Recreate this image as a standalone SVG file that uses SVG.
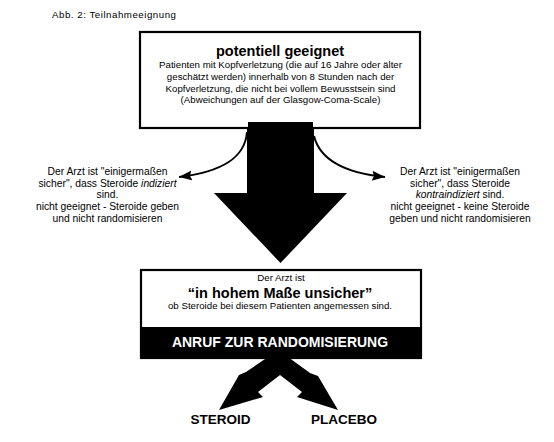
<svg xmlns="http://www.w3.org/2000/svg" width="554" height="442" viewBox="0 0 554 442">
<style>
  text { font-family: "Liberation Sans", Arial, sans-serif; fill: #000; }
  .small { font-size: 9.7px; }
  .side { font-size: 10.3px; }
  .title { font-size: 14.5px; font-weight: bold; }
  .big { font-size: 14.5px; font-weight: bold; }
  .band { font-size: 14px; font-weight: bold; fill: #fff; }
  .out { font-size: 13.5px; font-weight: bold; }
  .box { fill: #fff; stroke: #000; stroke-width: 2.2; }
  .curve { fill: none; stroke: #000; stroke-width: 2; }
  .solid { fill: #000; stroke: none; }
</style>
<defs>
  <marker id="head" markerUnits="userSpaceOnUse" markerWidth="14" markerHeight="12" viewBox="0 0 14 12" refX="13" refY="6" orient="auto">
    <path d="M0,1 L13,6 L0,11 L2,6 Z" fill="#000"/>
  </marker>
</defs>
<rect width="554" height="442" fill="#fff"/>

<g id="caption">
  <text class="small" x="52" y="18" textLength="124" lengthAdjust="spacing">Abb. 2: Teilnahmeeignung</text>
</g>

<g id="top-box">
  <rect class="box" x="140" y="32" width="280" height="96"/>
  <text class="title" x="280" y="55.5" text-anchor="middle">potentiell geeignet</text>
  <text class="small" x="280.5" y="68" text-anchor="middle">Patienten mit Kopfverletzung (die auf 16 Jahre oder älter</text>
  <text class="small" x="280.5" y="80" text-anchor="middle">geschätzt werden) innerhalb von 8 Stunden nach der</text>
  <text class="small" x="280.5" y="91.5" text-anchor="middle">Kopfverletzung, die nicht bei vollem Bewusstsein sind</text>
  <text class="small" x="280.5" y="103" text-anchor="middle">(Abweichungen auf der Glasgow-Coma-Scale)</text>
</g>

<g id="connectors">
  <path class="solid" d="M248,122 L313,122 L313,128 L314,128 L314,193 L347,193 L280.5,263 L214,193 L247,193 L247,128 L248,128 Z"/>
  <path class="curve" d="M247,132 C245,158 222,172 179,177" marker-end="url(#head)"/>
  <path class="curve" d="M314,136 C320,160 345,173 385,177" marker-end="url(#head)"/>
  <path class="solid" d="M268,357 L288,357 L310,373 L318,376 L338,410 L297,397 L302,392 L280,375 L258,392 L263,397 L219,410 L239,375 L246,372 Z"/>
</g>

<g id="note-left">
  <text class="side" text-anchor="middle" x="107.5" y="175">Der Arzt ist "einigermaßen</text>
  <text class="side" text-anchor="middle" x="107.5" y="186.5">sicher", dass Steroide <tspan font-style="italic">indiziert</tspan></text>
  <text class="side" text-anchor="middle" x="107.5" y="198">sind.</text>
  <text class="side" text-anchor="middle" x="107.5" y="210">nicht geeignet - Steroide geben</text>
  <text class="side" text-anchor="middle" x="107.5" y="221.5">und nicht randomisieren</text>
</g>

<g id="note-right">
  <text class="side" text-anchor="middle" x="460" y="175">Der Arzt ist "einigermaßen</text>
  <text class="side" text-anchor="middle" x="460" y="186.5">sicher", dass Steroide</text>
  <text class="side" text-anchor="middle" x="460" y="198"><tspan font-style="italic">kontraindiziert</tspan> sind.</text>
  <text class="side" text-anchor="middle" x="460" y="210">nicht geeignet - keine Steroide</text>
  <text class="side" text-anchor="middle" x="460" y="221.5">geben und nicht randomisieren</text>
</g>

<g id="bottom-box">
  <rect class="box" x="141" y="270" width="280" height="88"/>
  <rect class="solid" x="140" y="327" width="282" height="31"/>
  <text class="small" x="281" y="281" text-anchor="middle">Der Arzt ist</text>
  <text class="big" x="280" y="297.5" text-anchor="middle">“in hohem Maße unsicher”</text>
  <text class="small" x="280" y="308.5" text-anchor="middle">ob Steroide bei diesem Patienten angemessen sind.</text>
  <text class="band" x="280" y="347" text-anchor="middle">ANRUF ZUR RANDOMISIERUNG</text>
</g>

<g id="steroid">
  <text class="out" x="220.5" y="423.5" text-anchor="middle">STEROID</text>
</g>
<g id="placebo">
  <text class="out" x="344" y="423.5" text-anchor="middle">PLACEBO</text>
</g>
</svg>
